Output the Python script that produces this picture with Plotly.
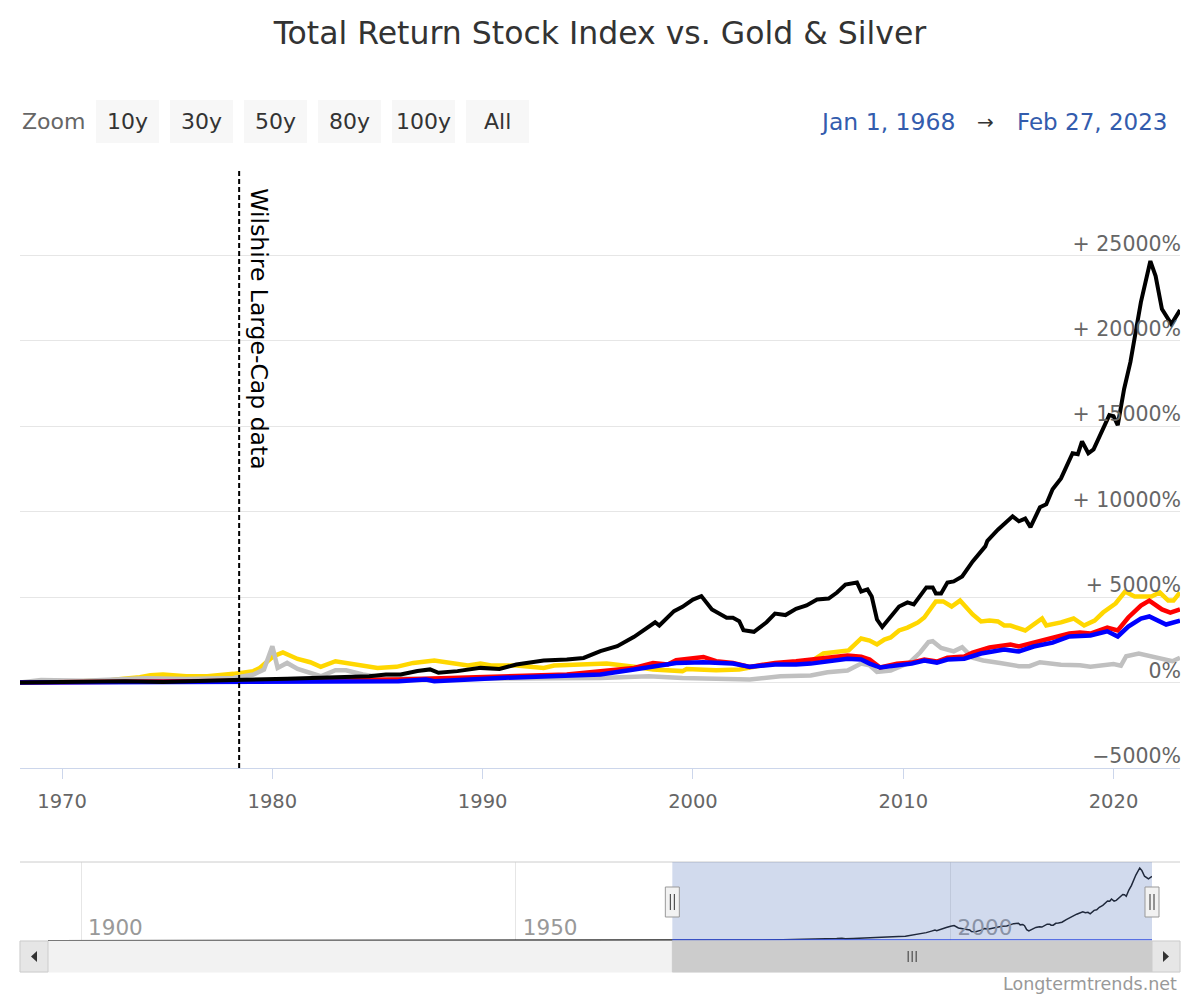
import datetime as dt
import plotly.graph_objects as go

# ---- data (decimal years, % return since Jan 1968) ----
stock_years = [1968.0, 1969.0, 1970.5, 1972.0, 1973.0, 1974.8, 1976.0, 1978.15, 1980.7, 1983.1,
               1984.6, 1985.4, 1986.1, 1986.9, 1987.5, 1987.9, 1988.8, 1989.9, 1990.8, 1991.6,
               1992.9, 1994.0, 1994.8, 1995.6, 1996.4, 1997.2, 1997.8, 1998.2, 1998.4, 1999.1,
               1999.5, 2000.0, 2000.4, 2000.9, 2001.6, 2001.9, 2002.2, 2002.4, 2002.9, 2003.5,
               2003.9, 2004.4, 2004.9, 2005.4, 2005.9, 2006.45, 2006.85, 2007.25, 2007.8, 2008.0,
               2008.3, 2008.5, 2008.75, 2009.0, 2009.8, 2010.2, 2010.5, 2011.1, 2011.4, 2011.55,
               2011.8, 2012.1, 2012.4, 2012.8, 2013.3, 2013.9, 2014.0, 2014.5, 2015.2, 2015.5,
               2015.8, 2016.05, 2016.5, 2016.8, 2017.1, 2017.5, 2018.05, 2018.3, 2018.5, 2018.8,
               2019.05, 2019.4, 2019.8, 2020.0, 2020.2, 2020.5, 2020.8, 2021.3, 2021.75, 2022.0,
               2022.3, 2022.75, 2023.16]
stock_values = [0, 20, 10, 60, 80, 40, 100, 150, 230, 310,
                370, 470, 470, 680, 770, 570, 670, 860, 800, 1055,
                1290, 1350, 1440, 1840, 2130, 2680, 3200, 3530, 3340, 4180,
                4430, 4860, 5060, 4280, 3790, 3790, 3590, 3070, 2970, 3530,
                4040, 3950, 4320, 4510, 4860, 4920, 5270, 5740, 5860, 5330,
                5450, 5040, 3690, 3250, 4450, 4690, 4570, 5570, 5570, 5220,
                5220, 5860, 5920, 6210, 7090, 7970, 8300, 8950, 9730, 9440,
                9600, 9100, 10260, 10430, 11310, 11950, 13420, 13360, 14120, 13420,
                13650, 14650, 15650, 15590, 15060, 17170, 18750, 22270, 24670, 23790,
                21860, 20980, 21800]

red_years = [1968.0, 1975.0, 1980.0, 1985.0, 1986.0, 1990.8, 1994.0, 1995.6, 1997.2, 1998.1,
             1998.8, 1999.2, 2000.5, 2001.1, 2001.9, 2002.7, 2003.9, 2004.9, 2005.6, 2007.35,
             2008.0, 2008.4, 2008.9, 2009.7, 2010.4, 2011.0, 2011.6, 2012.1, 2012.9, 2013.3,
             2014.1, 2015.1, 2015.5, 2016.2, 2017.1, 2017.9, 2018.4, 2018.9, 2019.7, 2020.2,
             2020.7, 2021.3, 2021.7, 2022.3, 2022.7, 2023.16]
red_values = [0, 40, 100, 160, 180, 370, 470, 670, 860, 1150,
              1055, 1310, 1500, 1250, 1150, 920, 1150, 1250, 1350, 1580,
              1520, 1350, 880, 1110, 1170, 1350, 1230, 1460, 1520, 1760,
              2050, 2230, 2110, 2340, 2580, 2870, 2930, 2870, 3220, 3050,
              3810, 4510, 4800, 4280, 4100, 4280]

blue_years = [1968.0, 1975.0, 1980.0, 1985.0, 1986.0, 1987.3, 1987.7, 1990.8, 1994.0, 1995.6,
              1997.2, 1998.1, 1999.2, 2000.5, 2001.9, 2002.7, 2003.9, 2004.9, 2005.6, 2007.35,
              2008.0, 2008.4, 2008.9, 2010.4, 2011.0, 2011.6, 2012.1, 2012.9, 2013.7, 2014.8,
              2015.5, 2016.2, 2017.1, 2017.9, 2018.9, 2019.7, 2020.2, 2020.7, 2021.3, 2021.7,
              2022.5, 2023.16]
blue_values = [0, 20, 50, 80, 80, 180, 80, 270, 370, 470,
               765, 920, 1150, 1190, 1110, 920, 1055, 1055, 1110, 1400,
               1350, 1110, 880, 1110, 1290, 1170, 1350, 1400, 1700, 1930,
               1820, 2110, 2340, 2700, 2760, 3000, 2700, 3280, 3750, 3870,
               3400, 3630]

gold_years = [1968.0, 1970.0, 1972.0, 1972.8, 1973.7, 1974.2, 1974.8, 1975.9, 1976.9, 1978.15,
              1979.1, 1979.4, 1980.05, 1980.5, 1981.2, 1981.8, 1982.3, 1983.0, 1983.9, 1985.0,
              1985.9, 1986.7, 1987.7, 1989.3, 1989.9, 1990.4, 1991.6, 1992.9, 1993.4, 1994.8,
              1995.9, 1997.2, 1998.1, 1999.5, 1999.7, 2001.1, 2002.2, 2003.5, 2004.16, 2004.8,
              2005.6, 2006.2, 2007.4, 2008.0, 2008.4, 2008.75, 2009.1, 2009.4, 2009.8, 2010.2,
              2010.7, 2011.0, 2011.55, 2011.9, 2012.3, 2012.7, 2013.3, 2013.7, 2014.1, 2014.5,
              2014.8, 2015.1, 2015.8, 2016.6, 2016.8, 2017.5, 2018.1, 2018.6, 2019.1, 2019.5,
              2020.1, 2020.55, 2021.0, 2021.8, 2022.2, 2022.6, 2022.85, 2023.16]
gold_values = [0, 30, 100, 215, 310, 430, 470, 370, 370, 510,
               670, 860, 1540, 1770, 1380, 1190, 920, 1250, 1055, 860,
               920, 1150, 1290, 1000, 1110, 1000, 1000, 860, 1000, 1055,
               1110, 920, 765, 670, 800, 725, 765, 1055, 1110, 1170,
               1230, 1700, 1880, 2580, 2460, 2230, 2520, 2640, 3050, 3220,
               3520, 3810, 4750, 4750, 4450, 4800, 3990, 3580, 3630, 3580,
               3340, 3340, 3050, 3750, 3340, 3520, 3750, 3340, 3630, 4100,
               4630, 5330, 5040, 5040, 5270, 4800, 4800, 5270]

silver_years = [1968.0, 1969.0, 1971.0, 1972.8, 1974.0, 1975.9, 1978.15, 1979.1, 1979.6, 1980.0,
                1980.25, 1980.7, 1981.2, 1982.3, 1983.0, 1983.5, 1984.3, 1985.4, 1987.0, 1989.3,
                1992.4, 1995.6, 1997.9, 1999.5, 2002.7, 2004.16, 2005.6, 2006.4, 2007.35, 2008.0,
                2008.4, 2008.75, 2009.4, 2010.3, 2010.8, 2011.2, 2011.4, 2011.8, 2012.4, 2012.8,
                2013.3, 2013.8, 2014.6, 2015.5, 2016.0, 2016.5, 2017.5, 2018.4, 2018.9, 2020.0,
                2020.35, 2020.6, 2021.2, 2021.7, 2022.35, 2022.8, 2023.16]
silver_values = [0, 150, 100, 180, 250, 215, 270, 470, 760, 2130,
                 860, 1150, 800, 370, 720, 720, 470, 270, 215, 220,
                 220, 270, 370, 270, 180, 370, 410, 600, 700, 1110,
                 1010, 620, 700, 1170, 1760, 2370, 2420, 2030, 1830, 2070,
                 1450, 1290, 1150, 960, 960, 1190, 1050, 1010, 920, 1090,
                 990, 1540, 1700, 1540, 1380, 1250, 1450]

# navigator: stock index history before 1968 (flat near the bottom)
nav_early_years = [1896.2, 1920.0, 1950.0, 1967.9]
nav_early_values = [-99, -97, -85, -2]

y_tick_vals = [-5000, 0, 5000, 10000, 15000, 20000, 25000, 30000]
y_tick_text = ["\u22125000%", "0%", "+ 5000%", "+ 10000%", "+ 15000%", "+ 20000%", "+ 25000%", ""]
x_tick_years = [1970, 1980, 1990, 2000, 2010, 2020]
nav_tick_years = [1900, 1950, 2000]
zoom_buttons = ["10y", "30y", "50y", "80y", "100y", "All"]
marker_year = 1978.42
view_start, view_end = 1968.0, 2023.16
nav_start = 1896.2

W, H = 1200, 1000
OFF = 8  # page body margin
NAV_L, NAV_R = 48, 1152  # navigator pixel extent


def to_date(y):
    year = int(y)
    start = dt.datetime(year, 1, 1)
    days = (dt.datetime(year + 1, 1, 1) - start).days
    return start + dt.timedelta(days=(y - year) * days)


def px(x):
    return (x - OFF) / W


def py(y):
    return 1 - (y - OFF) / H


def nav_paper(y):
    # paper x of a date on the navigator axis (for shapes that must not be clipped)
    t0, t1 = to_date(nav_start).timestamp(), to_date(view_end).timestamp()
    f = (to_date(y).timestamp() - t0) / (t1 - t0)
    return px(NAV_L + f * (NAV_R - NAV_L))


fig = go.Figure()

# black series sits on y3 (same scale as y) so that the label axis gets drawn
series = [
    ("Gold", gold_years, gold_values, "#ffd700", 4.5, "y"),
    ("Silver", silver_years, silver_values, "#c0c0c0", 4.5, "y"),
    ("Large-Cap Price Index", red_years, red_values, "#ff0000", 4.5, "y"),
    ("Stock Price Index", blue_years, blue_values, "#0000ff", 4.5, "y"),
    ("Total Return Stock Index", stock_years, stock_values, "#000000", 4, "y3"),
]
for name, xs, ys, color, lw, yax in series:
    fig.add_trace(go.Scatter(
        x=[to_date(v) for v in xs], y=ys, name=name, mode="lines",
        line=dict(color=color, width=lw),
        xaxis="x", yaxis=yax, showlegend=False,
    ))

# navigator series
fig.add_trace(go.Scatter(
    x=[to_date(v) for v in nav_early_years + stock_years],
    y=nav_early_values + stock_values,
    mode="lines", line=dict(color="#000000", width=1.5),
    xaxis="x2", yaxis="y2", showlegend=False, hoverinfo="skip",
))

shapes = []
# vertical dashed marker
shapes.append(dict(type="line", xref="x", yref="paper",
                   x0=to_date(marker_year), x1=to_date(marker_year), y0=py(768), y1=py(170),
                   line=dict(color="#000000", width=2, dash="5px,3px")))

# range selector buttons
annotations = [dict(text="Zoom", x=px(20), y=py(122), xref="paper", yref="paper",
                    xanchor="left", yanchor="middle", showarrow=False,
                    font=dict(size=22, color="#666666"))]
for i, lab in enumerate(zoom_buttons):
    bx = 96 + i * 74
    shapes.append(dict(type="rect", xref="paper", yref="paper",
                       x0=px(bx), x1=px(bx + 63), y0=py(143), y1=py(100),
                       fillcolor="#f7f7f7", line=dict(width=0), layer="below"))
    annotations.append(dict(text=lab, x=px(bx + 31.5), y=py(122), xref="paper", yref="paper",
                            xanchor="center", yanchor="middle", showarrow=False,
                            font=dict(size=22, color="#333333")))

annotations += [
    dict(text="Jan 1, 1968", x=px(957), y=py(122), xref="paper", yref="paper",
         xanchor="right", yanchor="middle", showarrow=False, font=dict(size=23.5, color="#335cad")),
    dict(text="→", x=px(985), y=py(122), xref="paper", yref="paper",
         xanchor="center", yanchor="middle", showarrow=False, font=dict(size=20, color="#333333")),
    dict(text="Feb 27, 2023", x=px(1169), y=py(122), xref="paper", yref="paper",
         xanchor="right", yanchor="middle", showarrow=False, font=dict(size=23, color="#335cad")),
    dict(text="Wilshire Large-Cap data", x=to_date(marker_year), y=py(186), xref="x", yref="paper",
         xanchor="left", yanchor="top", xshift=3, textangle=90, showarrow=False,
         font=dict(size=23.5, color="#000000")),
    dict(text="Longtermtrends.net", x=px(1179), y=py(984), xref="paper", yref="paper",
         xanchor="right", yanchor="middle", showarrow=False, font=dict(size=17.5, color="#999999")),
]

# navigator chrome
shapes += [
    dict(type="line", xref="paper", yref="paper", x0=px(20), x1=px(1180), y0=py(862), y1=py(862),
         line=dict(color="#cccccc", width=1)),
    dict(type="rect", xref="x2", yref="paper", x0=to_date(view_start), x1=to_date(view_end),
         y0=py(940), y1=py(862), fillcolor="rgba(102,133,194,0.3)", line=dict(width=0), layer="above"),
    dict(type="line", xref="x2", yref="paper", x0=to_date(view_start), x1=to_date(view_end),
         y0=py(940), y1=py(940), line=dict(color="#2f4de0", width=1.5)),
    # scrollbar
    dict(type="rect", xref="paper", yref="paper", x0=px(20), x1=px(1180), y0=py(972), y1=py(941),
         fillcolor="#f2f2f2", line=dict(color="#f2f2f2", width=1)),
    dict(type="rect", xref="x2", yref="paper", x0=to_date(view_start), x1=to_date(view_end),
         y0=py(972), y1=py(941), fillcolor="#cccccc", line=dict(color="#cccccc", width=1)),
    dict(type="rect", xref="paper", yref="paper", x0=px(20), x1=px(48), y0=py(972), y1=py(941),
         fillcolor="#e6e6e6", line=dict(color="#cccccc", width=1)),
    dict(type="rect", xref="paper", yref="paper", x0=px(1152), x1=px(1180), y0=py(972), y1=py(941),
         fillcolor="#e6e6e6", line=dict(color="#cccccc", width=1)),
    dict(type="path", xref="paper", yref="paper",
         path=f"M {px(37)} {py(951)} L {px(31)} {py(956.5)} L {px(37)} {py(962)} Z",
         fillcolor="#333333", line=dict(width=0)),
    dict(type="path", xref="paper", yref="paper",
         path=f"M {px(1163)} {py(951)} L {px(1169)} {py(956.5)} L {px(1163)} {py(962)} Z",
         fillcolor="#333333", line=dict(width=0)),
]
mid = nav_paper((view_start + view_end) / 2)
for off in (-4, 0, 4):
    shapes.append(dict(type="line", xref="paper", yref="paper", xsizemode="pixel", xanchor=mid,
                       x0=off, x1=off, y0=py(951), y1=py(962), line=dict(color="#333333", width=1)))
for edge in (view_start, view_end):
    ex = nav_paper(edge)
    shapes.append(dict(type="rect", xref="paper", yref="paper", xsizemode="pixel", xanchor=ex,
                       x0=-7, x1=7, y0=py(917), y1=py(887), fillcolor="#f2f2f2",
                       line=dict(color="#999999", width=1)))
    for off in (-2, 2):
        shapes.append(dict(type="line", xref="paper", yref="paper", xsizemode="pixel", xanchor=ex,
                           x0=off, x1=off, y0=py(910), y1=py(894), line=dict(color="#333333", width=1)))

fig.update_layout(
    width=W, height=H,
    margin=dict(l=0, r=0, t=0, b=0),
    paper_bgcolor="white", plot_bgcolor="white",
    font=dict(family="DejaVu Sans", color="#333333"),
    showlegend=False,
    title=dict(text="Total Return Stock Index vs. Gold & Silver", x=px(600), xanchor="center",
               y=py(33), yref="container", yanchor="middle",
               font=dict(size=31.5, color="#333333")),
    xaxis=dict(domain=[px(20), px(1180)], anchor="y", type="date",
               range=[to_date(view_start), to_date(view_end)],
               tickvals=[to_date(v) for v in x_tick_years], tickformat="%Y",
               showgrid=False, zeroline=False, showline=True, linecolor="#ccd6eb", linewidth=1,
               ticks="outside", ticklen=10, tickcolor="#ccd6eb", tickwidth=1,
               ticklabelstandoff=6, tickfont=dict(size=19.5, color="#666666")),
    # gridlines only; the labels come from the overlaid free axis y3
    yaxis=dict(domain=[py(768), py(170)], anchor="x", range=[-5000, 30000],
               side="right", tickvals=y_tick_vals, showticklabels=False,
               showgrid=True, gridcolor="#e6e6e6", gridwidth=1, zeroline=False, showline=False),
    # a left-side axis placed on the right edge: its labels fall inside the plot
    yaxis3=dict(overlaying="y", anchor="free", position=px(1180), side="left",
                range=[-5000, 30000], tickvals=y_tick_vals, ticktext=y_tick_text,
                ticks="", ticklabelshift=-12, ticklabelstandoff=-1,
                showgrid=False, zeroline=False, showline=False,
                tickfont=dict(size=20.5, color="#666666")),
    xaxis2=dict(domain=[px(NAV_L), px(NAV_R)], anchor="y2", type="date",
                range=[to_date(nav_start), to_date(view_end)],
                tickvals=[to_date(v) for v in nav_tick_years], tickformat="%Y",
                ticklabelposition="inside right", ticks="",
                ticklabelshift=7, ticklabelstandoff=-4,
                showgrid=True, gridcolor="#e6e6e6", zeroline=False, showline=False,
                tickfont=dict(size=21.5, color="#999999")),
    yaxis2=dict(domain=[py(941), py(862)], anchor="x2", range=[-170, 26710], visible=False),
    shapes=shapes,
    annotations=annotations,
)

fig.write_html("out.html")
